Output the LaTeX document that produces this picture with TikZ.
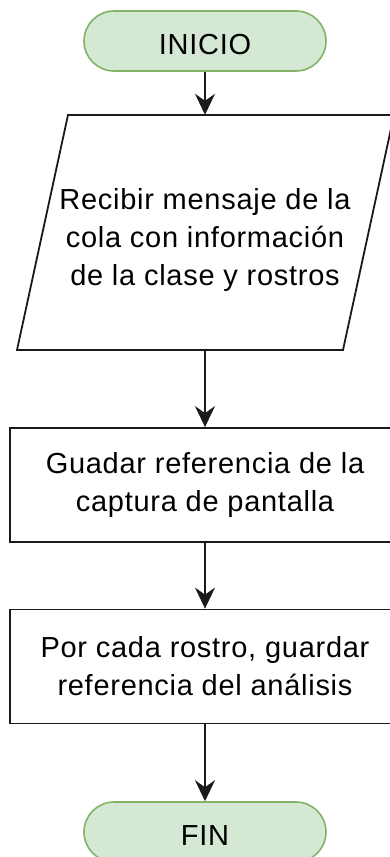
\documentclass[tikz,border=0pt]{standalone}
\usepackage{fontspec}
\setmainfont[LetterSpace=2.5]{Liberation Sans}
\usetikzlibrary{arrows.meta}
\definecolor{gfill}{HTML}{D5E8D4}
\definecolor{gdraw}{HTML}{82B366}
\definecolor{lineblk}{HTML}{1A1A1A}
\begin{document}
\begin{tikzpicture}[x=1pt,y=1pt,
  every node/.style={font=\fontsize{29}{38}\selectfont, align=center},
  term/.style={draw=gdraw, fill=gfill, line width=1.6pt, rounded corners=30pt,
    minimum width=242pt, minimum height=60pt, inner sep=0pt, text height=26pt, text depth=0pt},
  proc/.style={draw=lineblk, line width=1.8pt, minimum width=390pt, minimum height=114pt, inner sep=0pt},
  ghost/.style={minimum width=326pt, minimum height=235pt, inner sep=0pt},
  outline/.style={draw=lineblk, line width=1.8pt, line join=miter},
  flow/.style={draw=lineblk, line width=1.8pt, -{Stealth[length=21pt,width=20pt,inset=7pt]}}]
\useasboundingbox (0,0) rectangle (390,-857);
\fill[white] (0,0) rectangle (390,-857);
\clip (0,0) rectangle (390,-857);
\node[term] (inicio) at (205,-41) {INICIO};
\node[ghost] (para) at (205,-232.5) {};
\draw[outline] (68,-115) -- (394,-115) -- (343,-350) -- (17,-350) -- cycle;
\node (paratext) at (205,-240) {Recibir mensaje de la\\cola con información\\de la clase y rostros};
\node[proc] (guardar) at (205,-485) {Guadar referencia de la\\captura de pantalla};
\node[proc] (rostro) at (205,-666.5) {Por cada rostro, guardar\\referencia del análisis};
\node[term] (fin) at (205,-832) {FIN};
\draw[flow] (inicio.south) -- (para.north);
\draw[flow] (para.south) -- (guardar.north);
\draw[flow] (guardar.south) -- (rostro.north);
\draw[flow] (rostro.south) -- (fin.north);
\end{tikzpicture}
\end{document}
